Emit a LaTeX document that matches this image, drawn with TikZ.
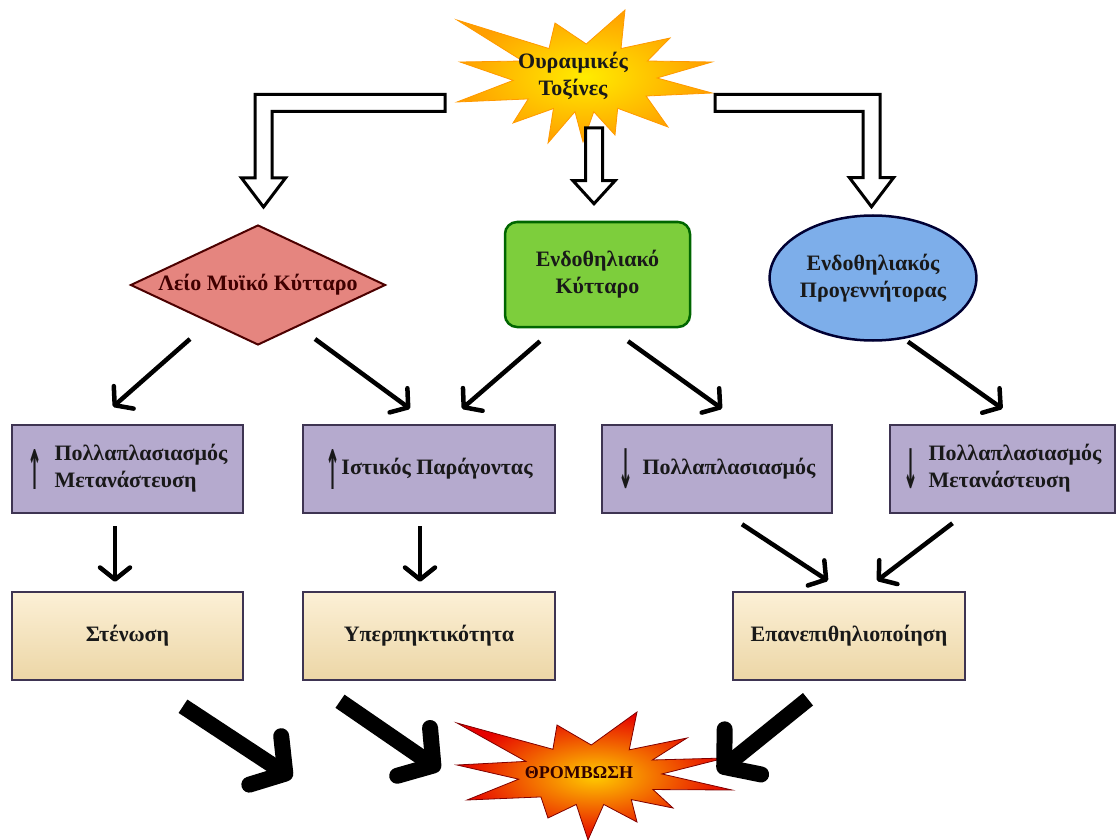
\documentclass[tikz,border=0pt]{standalone}
\usepackage{fontspec}
\setmainfont{Liberation Serif}
\newfontfamily\arrowfont{DejaVu Sans}
\usepackage{tikz}
\usetikzlibrary{arrows.meta,
                calc,
                shapes.geometric}

\definecolor{lilac}{HTML}{B5AACE}
\definecolor{boxframe}{HTML}{3E3452}
\definecolor{sandtop}{HTML}{FCF0D6}
\definecolor{sandbot}{HTML}{ECD6A6}
\definecolor{salmon}{HTML}{E5857F}
\definecolor{leaf}{HTML}{7DCE3C}
\definecolor{sky}{HTML}{7DAEEA}

% tall arrows inside the boxes
\newcommand\bigup{$\vcenter{\hbox{\resizebox*{15pt}{40pt}{\arrowfont ↑}}}$}
\newcommand\bigdown{$\vcenter{\hbox{\resizebox*{15pt}{40pt}{\arrowfont ↓}}}$}

% hollow elbow arrow: #1 start of the bar, #2 tip
\newcommand\hollowelbow[2]{%
  \draw[hollow] let \p1=(#1), \p2=(#2), \n1={sign(\x2-\x1)} in
    ({\x1},{\y1+8.5pt}) -- ({\x2+\n1*8.5pt},{\y1+8.5pt}) -- ({\x2+\n1*8.5pt},{\y2+29pt})
    -- ({\x2+\n1*22pt},{\y2+29pt}) -- (\x2,\y2) -- ({\x2-\n1*22pt},{\y2+29pt})
    -- ({\x2-\n1*8.5pt},{\y2+29pt}) -- ({\x2-\n1*8.5pt},{\y1-8.5pt}) -- ({\x1},{\y1-8.5pt}) -- cycle;}
% hollow straight arrow
\newcommand\hollowdown[2]{%
  \draw[hollow] let \p1=(#1), \p2=(#2) in
    ({\x2-8.5pt},\y1) -- ({\x2-8.5pt},{\y2+23pt}) -- ({\x2-21pt},{\y2+23pt}) -- (\x2,\y2)
    -- ({\x2+21pt},{\y2+23pt}) -- ({\x2+8.5pt},{\y2+23pt}) -- ({\x2+8.5pt},\y1) -- cycle;}

\begin{document}
\begin{tikzpicture}[x=1pt, y=-1pt,
  font=\bfseries\fontsize{22}{27}\selectfont,
  every node/.style={text=black!90, align=center},
  lilacbox/.style={draw=boxframe, line width=2.5pt, fill=lilac, minimum height=88pt},
  sandbox/.style={draw=boxframe, line width=2.5pt, top color=sandtop, bottom color=sandbot, minimum height=88pt},
  slimarrow/.style={line width=4.5pt, -{Straight Barb[round, length=12pt, width=30pt]}},
  fatarrow/.style={line width=16pt, -{Straight Barb[round, length=24pt, width=58pt]}},
  hollow/.style={draw=black, line width=3pt, fill=white, line join=miter}]
\useasboundingbox (0,0) rectangle (1120,840);

% toxins
\coordinate (toxc) at (585,78);
\draw[shift={(toxc)}, draw=orange!80!yellow, line width=0.8pt, inner color=yellow!85!orange, outer color=orange!75!yellow]
  (-128,-58) -- (-120:72 and 34) -- (-30,-55) -- (-89:72 and 34) -- (40,-68) -- (-60:72 and 34)
  -- (85,-40) -- (-30:72 and 34) -- (127,-16) -- (0:72 and 34) -- (127,15) -- (32:72 and 34)
  -- (83,49) -- (63:72 and 34) -- (30,57) -- (83:72 and 34) -- (-2,64) -- (98:72 and 34)
  -- (-37,65) -- (116:72 and 34) -- (-72,45) -- (142:72 and 34) -- (-128,24) -- (176:72 and 34)
  -- (-125,-16) -- (-150:72 and 34) -- cycle;
\node (tox) at (573,76) {Ουραιμικές\\Τοξίνες};

% cells
\node[diamond, draw=red!30!black, line width=2pt, fill=salmon, minimum width=255pt, minimum height=120pt,
      inner sep=0pt, aspect=2.1, text=red!25!black] (dmc) at (258,285) {Λείο Μυϊκό Κύτταρο};
\node[rounded corners=12pt, draw=green!40!black, line width=2.5pt, fill=leaf,
      minimum width=185pt, minimum height=105pt] (endo) at (597.5,274.5) {Ενδοθηλιακό\\Κύτταρο};
\node[ellipse, draw=blue!20!black, line width=2.5pt, fill=sky, minimum width=192pt, minimum height=125pt,
      inner sep=0pt] (prog) at (873,278) {Ενδοθηλιακός\\Προγεννήτορας};

\coordinate (toxl) at (445,103);
\coordinate (toxr) at (715,103);
\coordinate (toxb) at (594,128);
\hollowelbow{toxl}{[xshift=5.5pt,yshift=17pt]dmc.north}
\hollowelbow{toxr}{[xshift=-1.5pt,yshift=7.5pt]prog.north}
\hollowdown{toxb}{[xshift=-3.5pt,yshift=17pt]endo.north}

% effects
\node[lilacbox, minimum width=231pt] (pol1) at (127.5,469)
  {\bigup\hspace{12pt}\begin{tabular}{@{}l@{}}Πολλαπλασιασμός\\Μετανάστευση\end{tabular}};
\node[lilacbox, minimum width=252pt] (ist) at (429,469) {\bigup\hspace{1pt}Ιστικός Παράγοντας};
\node[lilacbox, minimum width=230pt] (pol2) at (717,469) {\bigdown\hspace{9pt}Πολλαπλασιασμός};
\node[lilacbox, minimum width=225pt] (pol3) at (1002.5,469)
  {\bigdown\hspace{10pt}\begin{tabular}{@{}l@{}}Πολλαπλασιασμός\\Μετανάστευση\end{tabular}};

\node[sandbox, minimum width=231pt] (sten) at (127.5,636) {Στένωση};
\node[sandbox, minimum width=252pt] (hyp) at (429,636) {Υπερπηκτικότητα};
\node[sandbox, minimum width=232pt] (epa) at (849,636) {Επανεπιθηλιοποίηση};

% thrombosis
\coordinate (thrc) at (590,775);
\draw[shift={(thrc)}, draw=red!50!black, line width=0.8pt, inner color=yellow!60!orange, outer color=red!90!black]
  (-133,-52) -- (-121:72 and 30) -- (-33,-50) -- (-89:72 and 30) -- (47,-63) -- (-57:72 and 30)
  -- (97,-37) -- (-30:72 and 30) -- (135,-17) -- (-2:72 and 30) -- (142,15) -- (29:72 and 30)
  -- (83,33) -- (55:72 and 30) -- (47,47) -- (79:72 and 30) -- (-2,65) -- (101:72 and 30)
  -- (-42,43) -- (133:72 and 30) -- (-123,25) -- (172:72 and 30) -- (-133,-10) -- (-153:72 and 30) -- cycle;
\node[font=\bfseries\fontsize{18}{22}\selectfont, text=red!20!black] (thr) at (579,773) {ΘΡΟΜΒΩΣΗ};

\draw[slimarrow] ([xshift=-68pt,yshift=7pt]dmc.south) -- ([xshift=-14.5pt,yshift=17pt]pol1.north);
\draw[slimarrow] ([xshift=57pt,yshift=7pt]dmc.south) -- ([xshift=-19pt,yshift=15pt]ist.north);
\draw[slimarrow] ([xshift=-57.5pt,yshift=-13pt]endo.south) -- ([xshift=33pt,yshift=15pt]ist.north);
\draw[slimarrow] ([xshift=30.5pt,yshift=-13pt]endo.south) -- ([xshift=5pt,yshift=15pt]pol2.north);
\draw[slimarrow] ([xshift=35pt]prog.south) -- ([yshift=15pt]pol3.north);
\draw[slimarrow] ([xshift=-12.5pt,yshift=-12pt]pol1.south) -- ([xshift=-12.5pt,yshift=9pt]sten.north);
\draw[slimarrow] ([xshift=-9pt,yshift=-12pt]ist.south) -- ([xshift=-9pt,yshift=9pt]hyp.north);
\draw[slimarrow] ([xshift=25pt,yshift=-10pt]pol2.south) -- ([xshift=-21pt,yshift=10pt]epa.north);
\draw[slimarrow] ([xshift=-50pt,yshift=-9pt]pol3.south) -- ([xshift=28pt,yshift=10pt]epa.north);

\draw[fatarrow] ([xshift=55.5pt,yshift=-25pt]sten.south) -- ([xshift=-298pt,yshift=-3pt]thrc);
\draw[fatarrow] ([xshift=-89pt,yshift=-20pt]hyp.south) -- ([xshift=-150pt,yshift=5pt]thrc);
\draw[fatarrow] ([xshift=-41pt,yshift=-18pt]epa.south) -- ([xshift=128pt,yshift=3pt]thrc);
\end{tikzpicture}
\end{document}
